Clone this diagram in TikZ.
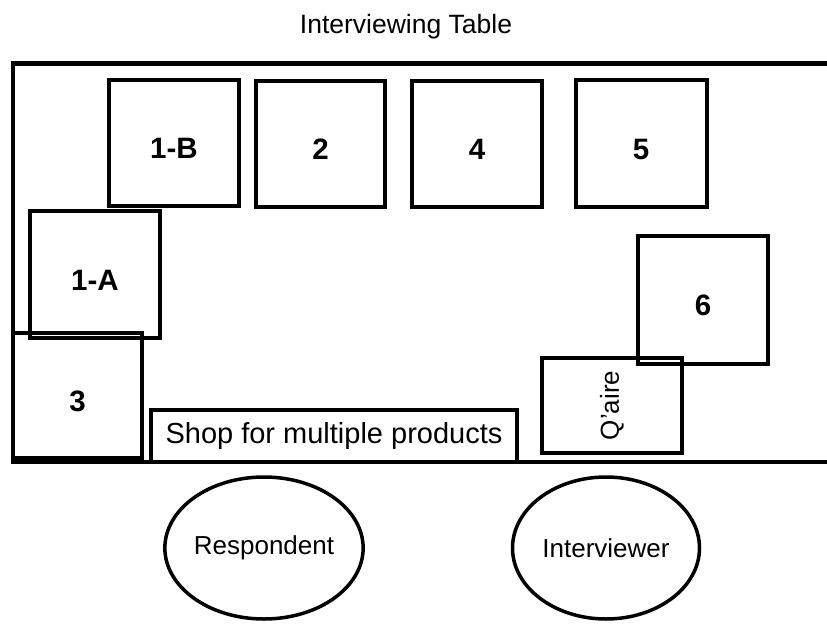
\documentclass[tikz,border=0pt]{standalone}
\usepackage{fontspec}
\setmainfont{Liberation Sans}
\usetikzlibrary{shapes.geometric}
\tikzset{
  item/.style={draw, line width=4pt, rectangle, inner sep=0pt,
    text height=31pt, text depth=0pt,
    font=\fontsize{29.5}{33}\selectfont\bfseries},
  person/.style={draw, line width=3.5pt, ellipse, inner sep=0pt,
    minimum width=187pt, minimum height=142pt,
    font=\fontsize{26}{30}\selectfont},
  plain/.style={font=\fontsize{26.5}{30}\selectfont}
}
\begin{document}
\begin{tikzpicture}[x=1pt, y=-1pt]
      \useasboundingbox (0,0) rectangle (827,626);
      \node[plain] (title) at (406, 27) {Interviewing Table};
      \draw[line width=4.5pt] (827,63.5) -- (13,63.5) -- (13,462) -- (827,462);

      \node[item, minimum width=130pt, minimum height=126pt] (p1b) at (174, 143) {1-B};
      \node[item, minimum width=129pt, minimum height=126pt] (p2) at (320.5, 144) {2};
      \node[item, minimum width=130pt, minimum height=126pt] (p4) at (477, 144) {4};
      \node[item, minimum width=131pt, minimum height=127pt] (p5) at (641, 143.5) {5};
      \node[item, minimum width=130pt, minimum height=127pt] (p1a) at (95, 274.5) {1-A};
      \node[item, minimum width=129pt, minimum height=125pt] (p3) at (77.5, 395.5) {3};
      \node[item, minimum width=130pt, minimum height=128pt] (p6) at (703, 300) {6};
      \node[item, minimum width=140pt, minimum height=95pt, text height=, text depth=,
        font=\fontsize{26}{30}\selectfont] (qaire) at (612, 405.5) {\rotatebox{90}{Q’aire}};
      \node[item, minimum width=366pt, minimum height=52pt, text height=, text depth=,
        font=\fontsize{29}{33}\selectfont] (shop) at (334, 436) {Shop for multiple products};

      \node[person] (resp) at (264, 548) {Respondent};
      \node[person] (intv) at (606, 548) {Interviewer};
\end{tikzpicture}
\end{document}
